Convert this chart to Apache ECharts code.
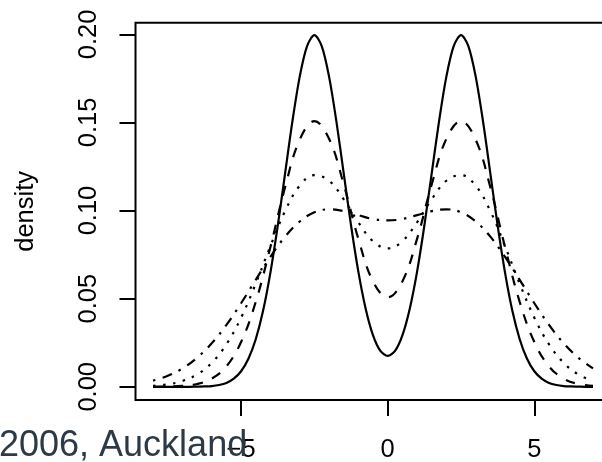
<!DOCTYPE html>
<html>
<head>
<meta charset="utf-8">
<script src="https://cdn.jsdelivr.net/npm/echarts@6/dist/echarts.min.js"></script>
<style>
html,body{margin:0;padding:0;background:#fff;}
#chart{width:602px;height:462px;}
</style>
</head>
<body>
<div id="chart"></div>
<script>
// x positions (fine grid for the solid curve, coarse grid for the others)
var xFine = [-8,-7.75,-7.5,-7.25,-7,-6.75,-6.5,-6.25,-6,-5.75,-5.5,-5.25,-5,-4.75,-4.5,-4.25,-4,-3.75,-3.5,-3.25,-3,-2.75,-2.5,-2.25,-2,-1.75,-1.5,-1.25,-1,-0.75,-0.5,-0.25,0,0.25,0.5,0.75,1,1.25,1.5,1.75,2,2.25,2.5,2.75,3,3.25,3.5,3.75,4,4.25,4.5,4.75,5,5.25,5.5,5.75,6,6.25,6.5,6.75,7];
var xCoarse = [-8,-7.5,-7,-6.5,-6,-5.5,-5,-4.5,-4,-3.5,-3,-2.5,-2,-1.5,-1,-0.5,0,0.5,1,1.5,2,2.5,3,3.5,4,4.5,5,5.5,6,6.5,7];

// density values
var solidDensity = [0.0000,0.0000,0.0000,0.0000,0.0000,0.0000,0.0001,0.0002,0.0004,0.0010,0.0022,0.0046,0.0088,0.0159,0.0270,0.0431,0.0648,0.0913,0.1210,0.1506,0.1760,0.1933,0.1995,0.1933,0.1760,0.1506,0.1211,0.0915,0.0652,0.0442,0.0292,0.0204,0.0175,0.0204,0.0292,0.0442,0.0652,0.0915,0.1211,0.1506,0.1760,0.1933,0.1995,0.1933,0.1760,0.1506,0.1210,0.0913,0.0648,0.0431,0.0270,0.0159,0.0088,0.0046,0.0022,0.0010,0.0004,0.0002,0.0001,0.0000,0.0000];
var dashedDensity = [0.0000,0.0001,0.0005,0.0016,0.0046,0.0116,0.0254,0.0482,0.0793,0.1132,0.1402,0.1507,0.1407,0.1148,0.0839,0.0598,0.0508,0.0598,0.0839,0.1148,0.1407,0.1507,0.1402,0.1132,0.0793,0.0482,0.0254,0.0116,0.0046,0.0016,0.0005];
var dottedDensity = [0.0006,0.0014,0.0033,0.0070,0.0136,0.0241,0.0392,0.0585,0.0798,0.0997,0.1141,0.1201,0.1169,0.1064,0.0933,0.0826,0.0785,0.0826,0.0933,0.1064,0.1169,0.1201,0.1141,0.0997,0.0798,0.0585,0.0392,0.0241,0.0136,0.0070,0.0033];
var dashDotDensity = [0.0035,0.0062,0.0104,0.0165,0.0247,0.0351,0.0474,0.0607,0.0737,0.0852,0.0938,0.0990,0.1007,0.0997,0.0974,0.0952,0.0944,0.0952,0.0974,0.0997,0.1007,0.0990,0.0938,0.0852,0.0737,0.0607,0.0474,0.0351,0.0247,0.0165,0.0104];

// tick values and labels
var xTicks = [-5, 0, 5];
var xTickLabels = ['\u22125', '0', '5'];
var yTicks = [0, 0.05, 0.1, 0.15, 0.2];
var yTickLabels = ['0.00', '0.05', '0.10', '0.15', '0.20'];
var yTitle = 'density';
var noteText = '2006, Auckland';

function pairs(xs, ys) { return xs.map(function (x, i) { return [x, ys[i]]; }); }
function labelFor(ticks, labels) {
  return function (v) {
    for (var i = 0; i < ticks.length; i++) if (Math.abs(ticks[i] - v) < 1e-9) return labels[i];
    return '';
  };
}

var FONT = '"Liberation Sans", Arial, Helvetica, sans-serif';
var chart = echarts.init(document.getElementById('chart'), null, {renderer: 'canvas'});

function lineSeries(xs, ys, dash, smooth) {
  return {
    type: 'line', data: pairs(xs, ys), showSymbol: false, symbol: 'none', smooth: smooth,
    lineStyle: {color: '#000', width: 2.2, type: dash, cap: 'butt'},
    animation: false, silent: true
  };
}

chart.setOption({
  animation: false,
  backgroundColor: '#fff',
  grid: {left: 135.5, top: 22.7, right: -8.6, bottom: 62, show: true, borderColor: '#000', borderWidth: 2, backgroundColor: 'transparent', containLabel: false, outerBoundsMode: 'none'},
  xAxis: {
    type: 'value', min: -8.6, max: 7.6, position: 'bottom',
    splitLine: {show: false},
    axisLine: {show: false, onZero: false},
    axisTick: {show: true, length: 16, lineStyle: {color: '#000', width: 2}, customValues: xTicks},
    axisLabel: {show: true, customValues: xTicks, formatter: labelFor(xTicks, xTickLabels), margin: 37, color: '#000', fontSize: 25.5, fontFamily: FONT}
  },
  yAxis: {
    type: 'value', min: -0.0075, max: 0.2066, position: 'left',
    name: yTitle, nameLocation: 'middle', nameGap: 97, nameRotate: 90,
    nameTextStyle: {color: '#000', fontSize: 25.5, fontFamily: FONT},
    splitLine: {show: false},
    axisLine: {show: false, onZero: false},
    axisTick: {show: true, length: 16, lineStyle: {color: '#000', width: 2}, customValues: yTicks},
    axisLabel: {show: true, rotate: 90, customValues: yTicks, formatter: labelFor(yTicks, yTickLabels), margin: 34, color: '#000', fontSize: 25.5, fontFamily: FONT}
  },
  series: [
    lineSeries(xFine, solidDensity, 'solid', 0.3),
    lineSeries(xCoarse, dashedDensity, [10, 10], 0.4),
    lineSeries(xCoarse, dottedDensity, [2.5, 7.5], 0.4),
    lineSeries(xCoarse, dashDotDensity, [2.5, 7.5, 10, 7.5], 0.4)
  ],
  graphic: [{
    type: 'text', left: -1, top: 428, z: 100,
    style: {text: noteText, fontSize: 36, fontFamily: FONT, fill: '#2c3a47'}
  }]
});
</script>
</body>
</html>
